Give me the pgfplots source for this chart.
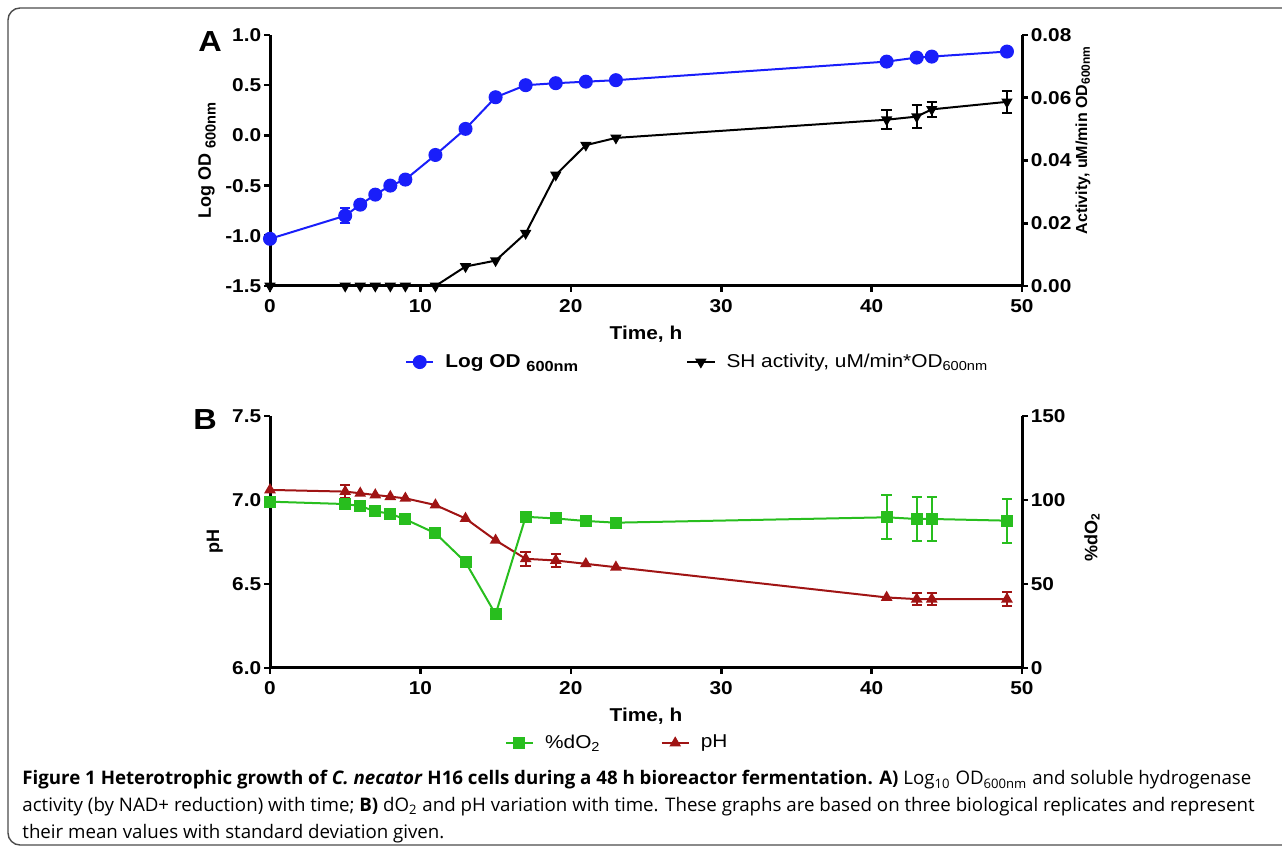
\documentclass[border=0pt]{standalone}
\usepackage{fontspec}
\setmainfont{Liberation Sans}[FakeStretch=1.12]
\newfontfamily\vsans{Liberation Sans}
\newfontfamily\capfont{Open Sans}
\usepackage{pgfplots}
\pgfplotsset{compat=1.18}

\definecolor{odblue}{RGB}{25,30,250}
\definecolor{dogreen}{RGB}{40,190,30}
\definecolor{phred}{RGB}{160,20,20}

\newcommand{\chartfont}{\bfseries\fontsize{9.3}{11}\selectfont}

\pgfplotsset{
  panel/.style={
    scale only axis, width=376pt, height=125.5pt,
    xmin=0, xmax=50, xtick={0,10,...,50},
    tick align=outside, major tick length=3pt,
    every tick/.style={black, line width=1.3pt},
    axis line style={line width=1.5pt},
    tick label style={font=\chartfont},
    yticklabel style={inner sep=1.2pt},
    label style={font=\chartfont},
    ylabel style={font=\vsans\bfseries\fontsize{9}{11}\selectfont},
    /pgf/number format/assume math mode=true,
    scaled y ticks=false,
    clip=false,
  },
  twolegend/.style={
    legend columns=2,
    legend style={draw=none, fill=none, anchor=center,
      font=\fontsize{9.3}{11}\selectfont,
      /tikz/every odd column/.append style={column sep=3.5pt},
      /tikz/every even column/.append style={column sep=#1}},
    legend image code/.code={\draw[mark repeat=2, mark phase=2]
      plot coordinates {(0cm,0cm) (0.24cm,0cm) (0.48cm,0cm)};}},
  prec/.style={/pgf/number format/fixed, /pgf/number format/fixed zerofill,
    /pgf/number format/precision=#1},
  errbar/.style={draw=none, forget plot,
    error bars/.cd, y dir=both, y explicit,
    error bar style={draw=#1, line width=1pt},
    error mark options={draw=#1, rotate=90, line width=1pt, mark size=2.6pt}},
}

\begin{document}
\begin{tikzpicture}
\useasboundingbox (0,0) rectangle (641pt,426.5pt);
\begin{scope}
  \clip (0,0) rectangle (641pt,426.5pt);
  \draw[line width=0.7pt, black!70, rounded corners=6pt] (4pt,4pt) rectangle (660pt,422.5pt);
\end{scope}

% ---------- panel A ----------
\begin{axis}[panel, at={(135pt,283.5pt)}, anchor=south west,
    axis x line*=bottom, axis y line*=left,
    ymin=-1.5, ymax=1.0, ytick={-1.5,-1,...,1},
    yticklabel style={prec=1},
    xlabel={Time, h},
    ylabel={Log OD \raisebox{-0.5ex}{\fontsize{7.3}{8}\selectfont 600nm}}]
  \addplot[errbar=odblue] coordinates {(5,-0.80) +- (0,0.075)};
  \addplot[odblue, line width=1pt, mark=*, mark size=3pt] coordinates {
    (0,-1.03) (5,-0.80) (6,-0.69) (7,-0.59) (8,-0.50) (9,-0.44) (11,-0.195)
    (13,0.065) (15,0.38) (17,0.50) (19,0.52) (21,0.535) (23,0.55)
    (41,0.735) (43,0.775) (44,0.785) (49,0.835)};
\end{axis}
\begin{axis}[panel, at={(135pt,283.5pt)}, anchor=south west,
    axis x line=none, axis y line*=right,
    ymin=0, ymax=0.08, ytick={0,0.02,...,0.08},
    yticklabel style={prec=2},
    ylabel={Activity, uM/min OD\textsubscript{600nm}},
    ylabel style={font=\vsans\bfseries\fontsize{8}{10}\selectfont,
      at={(rel axis cs:1.081,0.582)}, anchor=center},
    twolegend=52pt, legend style={at={(0.570,-0.303)}}]
  \addlegendimage{odblue, line width=1pt, mark=*, mark size=3pt}
  \addlegendentry{\textbf{Log OD \raisebox{-0.45ex}{\fontsize{7.3}{8}\selectfont 600nm}}}
  \addplot[errbar=black] coordinates {
    (41,0.0530) +- (0,0.003) (43,0.0540) +- (0,0.0036)
    (44,0.0563) +- (0,0.0025) (49,0.0587) +- (0,0.0036)};
  \addplot[black, line width=1pt, mark=triangle*, mark size=2.3pt,
      mark options={rotate=180}] coordinates {
    (0,0) (5,0) (6,0) (7,0) (8,0) (9,0) (11,0) (13,0.0062) (15,0.0081)
    (17,0.0168) (19,0.0354) (21,0.0449) (23,0.0472)
    (41,0.0530) (43,0.0540) (44,0.0563) (49,0.0587)};
  \addlegendentry{SH activity, uM/min*OD\textsubscript{600nm}}
\end{axis}
\node[font=\bfseries\fontsize{14.5}{16}\selectfont] at (105pt,405.5pt) {A};

% ---------- panel B ----------
\begin{axis}[panel, at={(135pt,92.5pt)}, anchor=south west, height=126pt,
    axis x line*=bottom, axis y line*=left,
    ymin=6.0, ymax=7.5, ytick={6.0,6.5,7.0,7.5},
    yticklabel style={prec=1},
    xlabel={Time, h}, ylabel={pH}]
  \addplot[errbar=phred] coordinates {
    (5,7.05) +- (0,0.04) (17,6.65) +- (0,0.04) (19,6.64) +- (0,0.04)
    (43,6.41) +- (0,0.037) (44,6.41) +- (0,0.037) (49,6.41) +- (0,0.04)};
  \addplot[phred, line width=1pt, mark=triangle*, mark size=2.4pt] coordinates {
    (0,7.06) (5,7.05) (6,7.04) (7,7.03) (8,7.02) (9,7.01) (11,6.97)
    (13,6.89) (15,6.76) (17,6.65) (19,6.64) (21,6.62) (23,6.60)
    (41,6.42) (43,6.41) (44,6.41) (49,6.41)};
\end{axis}
\begin{axis}[panel, at={(135pt,92.5pt)}, anchor=south west, height=126pt,
    axis x line=none, axis y line*=right,
    ymin=0, ymax=150, ytick={0,50,100,150},
    ylabel={\%dO\textsubscript{2}},
    ylabel style={at={(rel axis cs:1.093,0.52)}, anchor=center},
    twolegend=28pt, legend style={at={(0.463,-0.298)}}]
  \addplot[errbar=dogreen] coordinates {
    (41,89.7) +- (0,13) (43,88.7) +- (0,13) (44,88.7) +- (0,13) (49,87.7) +- (0,13)};
  \addplot[dogreen, line width=1pt, mark=square*, mark size=2.5pt] coordinates {
    (0,99) (5,97.6) (6,96.4) (7,93.3) (8,91.8) (9,88.5) (11,80.2)
    (13,63) (15,32) (17,90) (19,89) (21,87.5) (23,86.5)
    (41,89.7) (43,88.7) (44,88.7) (49,87.7)};
  \addlegendentry{\%dO\textsubscript{2}}
  \addlegendimage{phred, line width=1pt, mark=triangle*, mark size=2.4pt}
  \addlegendentry{pH}
\end{axis}
\node[font=\bfseries\fontsize{14.5}{16}\selectfont] at (102.5pt,216.5pt) {B};

% ---------- caption ----------
\node[anchor=north west, align=left, inner sep=0pt,
      font=\capfont\fontsize{9.35}{13.5}\selectfont] at (11pt,41.5pt)
  {\textbf{Figure 1 Heterotrophic growth of \textit{C. necator} H16 cells during a 48 h bioreactor fermentation. A)} Log\textsubscript{10} OD\textsubscript{600nm} and soluble hydrogenase\\
   activity (by NAD+ reduction) with time; \textbf{B)} dO\textsubscript{2} and pH variation with time. These graphs are based on three biological replicates and represent\\
   their mean values with standard deviation given.};
\end{tikzpicture}
\end{document}
